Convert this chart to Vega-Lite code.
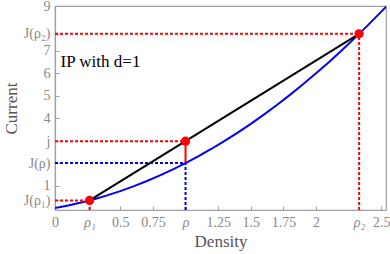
{
  "$schema": "https://vega.github.io/schema/vega-lite/v6.json",
  "width": 331,
  "height": 204,
  "autosize": "none",
  "padding": {"left": 55, "top": 6, "right": 4, "bottom": 44},
  "background": "white",
  "config": {
    "view": {"stroke": "#a0a0a0", "strokeWidth": 1.2},
    "font": "Liberation Serif",
    "axis": {
      "grid": false,
      "domainColor": "#a0a0a0",
      "domainWidth": 1.2,
      "tickColor": "#a0a0a0",
      "tickSize": -4,
      "labelColor": "#888888",
      "labelFont": "Liberation Serif",
      "labelFontSize": 14,
      "labelFlush": false,
      "titleFont": "Liberation Serif",
      "titleFontSize": 17,
      "titleFontWeight": "normal",
      "titleColor": "#555555",
      "labelPadding": 9
    }
  },
  "datasets": {
    "curve": [
      {"rho": 0, "J": 0}, {"rho": 0.1, "J": 0.11}, {"rho": 0.2, "J": 0.24}, {"rho": 0.3, "J": 0.39},
      {"rho": 0.4, "J": 0.56}, {"rho": 0.5, "J": 0.75}, {"rho": 0.6, "J": 0.96}, {"rho": 0.7, "J": 1.19},
      {"rho": 0.8, "J": 1.44}, {"rho": 0.9, "J": 1.71}, {"rho": 1.0, "J": 2.0}, {"rho": 1.1, "J": 2.31},
      {"rho": 1.2, "J": 2.64}, {"rho": 1.3, "J": 2.99}, {"rho": 1.4, "J": 3.36}, {"rho": 1.5, "J": 3.75},
      {"rho": 1.6, "J": 4.16}, {"rho": 1.7, "J": 4.59}, {"rho": 1.8, "J": 5.04}, {"rho": 1.9, "J": 5.51},
      {"rho": 2.0, "J": 6.0}, {"rho": 2.1, "J": 6.51}, {"rho": 2.2, "J": 7.04}, {"rho": 2.3, "J": 7.59},
      {"rho": 2.4, "J": 8.16}, {"rho": 2.5, "J": 8.75}, {"rho": 2.54, "J": 8.99}
    ],
    "chord": [
      {"rho": 0.265, "J": 0.335},
      {"rho": 2.33, "J": 7.76}
    ],
    "points": [
      {"rho": 0.265, "J": 0.335},
      {"rho": 1.0, "J": 2.978},
      {"rho": 2.33, "J": 7.76}
    ],
    "guides": [
      {"x1": 0, "x2": 0.265, "y1": 0.335, "y2": 0.335, "set": "chord"},
      {"x1": 0.265, "x2": 0.265, "y1": -0.09, "y2": 0.335, "set": "chord"},
      {"x1": 0, "x2": 1, "y1": 2.978, "y2": 2.978, "set": "chord"},
      {"x1": 0, "x2": 2.33, "y1": 7.76, "y2": 7.76, "set": "chord"},
      {"x1": 2.33, "x2": 2.33, "y1": -0.09, "y2": 7.76, "set": "chord"},
      {"x1": 0, "x2": 1, "y1": 2.0, "y2": 2.0, "set": "curve"},
      {"x1": 1, "x2": 1, "y1": -0.09, "y2": 2.0, "set": "curve"}
    ],
    "gap": [
      {"x1": 1, "x2": 1, "y1": 2.0, "y2": 2.978}
    ],
    "note": [
      {"rho": 0.043, "J": 6.28, "label": "IP with d=1"}
    ]
  },
  "encoding": {
    "x": {
      "type": "quantitative",
      "scale": {"domain": [0, 2.536], "nice": false, "zero": false},
      "axis": {
        "title": "Density",
        "titlePadding": 4,
        "values": [0, 0.265, 0.5, 0.75, 1, 1.25, 1.5, 1.75, 2, 2.33, 2.5],
        "labelExpr": "datum.value == 0.265 ? 'ρ₁' : datum.value == 1 ? 'ρ' : datum.value == 2.33 ? 'ρ₂' : format(datum.value, '~g')",
        "labelFontStyle": {"condition": {"test": "datum.value == 0.265 || datum.value == 1 || datum.value == 2.33", "value": "italic"}, "value": "normal"},
        "labelOverlap": false
      }
    },
    "y": {
      "type": "quantitative",
      "scale": {"domain": [-0.09, 9], "nice": false, "zero": false},
      "axis": {
        "title": "Current",
        "titlePadding": 3,
        "values": [0.335, 1, 2, 2.978, 4, 5, 6, 7, 7.76, 9],
        "labelExpr": "datum.value == 0.335 ? 'J(ρ₁)' : datum.value == 2 ? 'J(ρ)' : datum.value == 2.978 ? 'j' : datum.value == 7.76 ? 'J(ρ₂)' : format(datum.value, '~g')",
        "labelOverlap": false
      }
    }
  },
  "layer": [
    {
      "data": {"name": "guides"},
      "mark": {"type": "rule", "strokeWidth": 2, "strokeDash": [3, 2]},
      "encoding": {
        "x": {"field": "x1", "type": "quantitative"},
        "x2": {"field": "x2"},
        "y": {"field": "y1", "type": "quantitative"},
        "y2": {"field": "y2"},
        "color": {"field": "set", "type": "nominal", "scale": {"domain": ["chord", "curve"], "range": ["#ff0000", "#0000ff"]}, "legend": null}
      }
    },
    {
      "data": {"name": "gap"},
      "mark": {"type": "rule", "strokeWidth": 2, "color": "#ff0000"},
      "encoding": {
        "x": {"field": "x1", "type": "quantitative"},
        "x2": {"field": "x2"},
        "y": {"field": "y1", "type": "quantitative"},
        "y2": {"field": "y2"}
      }
    },
    {
      "data": {"name": "curve"},
      "mark": {"type": "line", "color": "#0000ff", "strokeWidth": 2, "clip": true},
      "encoding": {
        "x": {"field": "rho", "type": "quantitative"},
        "y": {"field": "J", "type": "quantitative"}
      }
    },
    {
      "data": {"name": "chord"},
      "mark": {"type": "line", "color": "#000000", "strokeWidth": 2},
      "encoding": {
        "x": {"field": "rho", "type": "quantitative"},
        "y": {"field": "J", "type": "quantitative"}
      }
    },
    {
      "data": {"name": "points"},
      "mark": {"type": "point", "filled": true, "color": "#ff0000", "opacity": 1, "size": 85},
      "encoding": {
        "x": {"field": "rho", "type": "quantitative"},
        "y": {"field": "J", "type": "quantitative"}
      }
    },
    {
      "data": {"name": "note"},
      "mark": {"type": "text", "align": "left", "baseline": "alphabetic", "fontSize": 17, "font": "Liberation Serif", "color": "#000000"},
      "encoding": {
        "x": {"field": "rho", "type": "quantitative"},
        "y": {"field": "J", "type": "quantitative"},
        "text": {"field": "label"}
      }
    }
  ]
}
